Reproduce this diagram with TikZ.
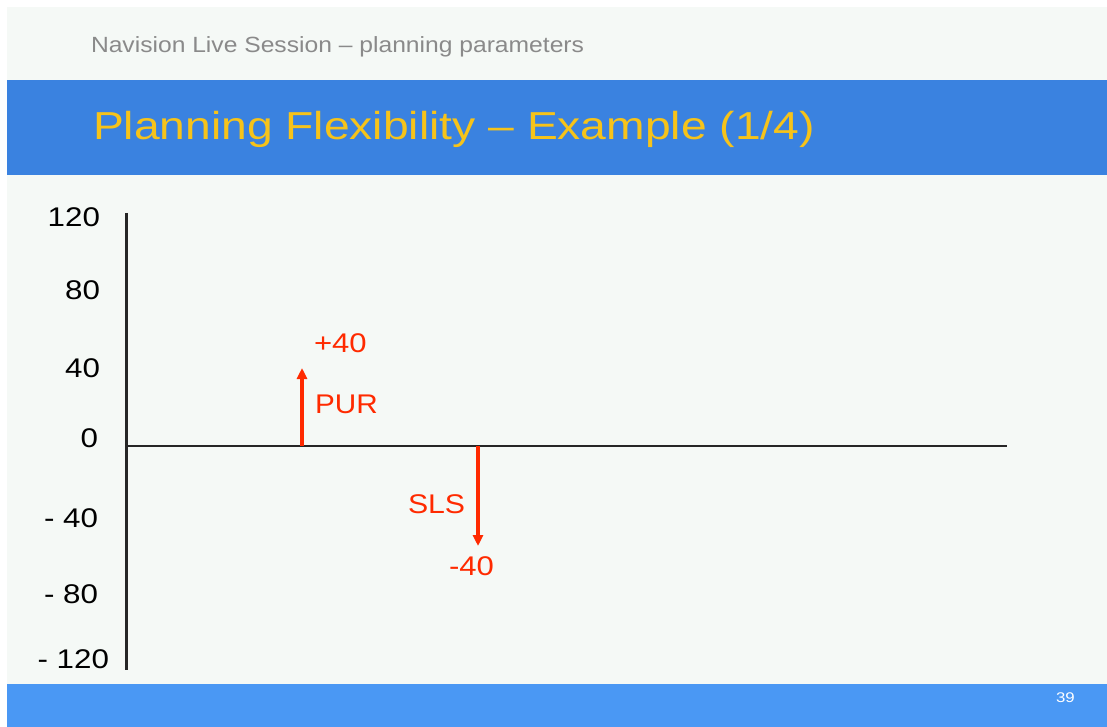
\documentclass[tikz,border=0pt]{standalone}
\usepackage{fontspec}
\usepackage{graphicx}
\setmainfont{Liberation Sans}
\usetikzlibrary{arrows.meta}
\definecolor{slidebg}{HTML}{F5F9F6}
\definecolor{titlebar}{HTML}{3A82E0}
\definecolor{footbar}{HTML}{4A98F4}
\definecolor{titletext}{HTML}{F6C31A}
\definecolor{hdrgrey}{HTML}{8A8A8A}
\definecolor{flowred}{HTML}{FF2A00}
\newcommand{\widetxt}[2]{\scalebox{#1}[1]{#2}}
\begin{document}
\begin{tikzpicture}[x=1pt,y=-1pt,
  every node/.style={inner sep=0pt,outer sep=0pt},
  ticklabel/.style={anchor=base east,font=\fontsize{27}{30}\selectfont,text=black},
  flowlabel/.style={anchor=base west,font=\fontsize{27}{30}\selectfont,text=flowred},
  flow/.style={draw=flowred,line width=3.4pt,-{Triangle[length=11pt,width=10pt]}},
  axisline/.style={draw=black!85,line width=3pt}]
\useasboundingbox (0,0) rectangle (1107,727);
\fill[white] (0,0) rectangle (1107,727);
\fill[slidebg] (7,7) rectangle (1107,727);
\fill[titlebar] (7,80) rectangle (1107,175);
\fill[footbar] (7,684) rectangle (1107,727);

\node[anchor=base west,font=\fontsize{22}{26}\selectfont,text=hdrgrey] (header) at (91,53) {\widetxt{1.12}{Navision Live Session -- planning parameters}};
\node[anchor=base west,font=\fontsize{39}{44}\selectfont,text=titletext] (title) at (93,140) {\widetxt{1.185}{Planning Flexibility -- Example (1/4)}};
\node[anchor=base west,font=\fontsize{14}{16}\selectfont,text=white] (page) at (1056,702) {\widetxt{1.2}{39}};

% axes
\coordinate (yTop) at (126,213);
\coordinate (yBot) at (126,670);
\coordinate (origin) at (126,446);
\coordinate (xEnd) at (1007,446);
\draw[axisline] (yTop) -- (yBot);
\draw[axisline,line width=2.6pt] (origin) -- (xEnd);

% tick labels
\node[ticklabel] (t120) at (100,227) {\widetxt{1.16}{120}};
\node[ticklabel] (t80) at (100,299) {\widetxt{1.16}{80}};
\node[ticklabel] (t40) at (100,377) {\widetxt{1.16}{40}};
\node[ticklabel] (t0) at (98,447) {\widetxt{1.16}{0}};
\node[ticklabel] (tm40) at (98,527) {\widetxt{1.16}{- 40}};
\node[ticklabel] (tm80) at (98,603) {\widetxt{1.16}{- 80}};
\node[ticklabel] (tm120) at (109,668) {\widetxt{1.16}{- 120}};

% flows
\coordinate (purBase) at (302,446);
\coordinate (purTip) at (302,368);
\draw[flow] (purBase) -- (purTip);
\coordinate (slsBase) at (478,446);
\coordinate (slsTip) at (478,546);
\draw[flow] (slsBase) -- (slsTip);

\node[flowlabel] (plus40) at (314,352) {\widetxt{1.15}{+40}};
\node[flowlabel] (pur) at (315,413) {\widetxt{1.1}{PUR}};
\node[flowlabel] (sls) at (408,513) {\widetxt{1.12}{SLS}};
\node[flowlabel] (minus40) at (449,575) {\widetxt{1.15}{-40}};
\end{tikzpicture}
\end{document}
